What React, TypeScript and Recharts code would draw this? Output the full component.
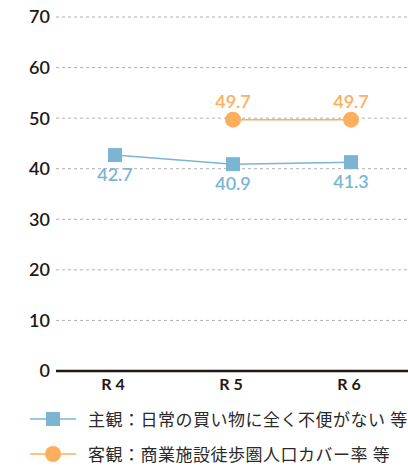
import { CartesianGrid, LabelList, Legend, Line, LineChart, XAxis, YAxis } from "recharts"

const categories = ["R4", "R5", "R6"]
const subjective = [42.7, 40.9, 41.3]
const objective = [null, 49.7, 49.7]
const yTicks = [0, 10, 20, 30, 40, 50, 60, 70]
const seriesNames = ["主観：日常の買い物に全く不便がない 等", "客観：商業施設徒歩圏人口カバー率 等"]

const blue = "#7cb5d3"
const orange = "#ffae5c"
const font = "Lato, 'Noto Sans CJK JP', sans-serif"

const data = categories.map((name, i) => ({
  name,
  subjective: subjective[i],
  objective: objective[i],
}))

const SquareDot = (props: any) => {
  const { cx, cy } = props
  if (cx == null || cy == null) return null
  return <rect x={cx - 7} y={cy - 7} width={14} height={14} fill={blue} />
}

const LegendBox = () => (
  <div style={{ fontFamily: font, fontSize: 17, color: "#2a2a2a", whiteSpace: "nowrap", letterSpacing: 0.5 }}>
    {seriesNames.map((label, i) => (
      <div key={label} style={{ height: 35, display: "flex", alignItems: "center" }}>
        <svg width={88} height={24} style={{ flexShrink: 0 }}>
          <line x1={30} x2={76} y1={12} y2={12} stroke={i === 0 ? blue : orange} strokeWidth={1.5} />
          {i === 0 ? (
            <rect x={46} y={5} width={14} height={14} fill={blue} />
          ) : (
            <circle cx={53} cy={12} r={8} fill={orange} />
          )}
        </svg>
        <span>{label}</span>
      </div>
    ))}
  </div>
)

export default function App() {
  return (
    <div style={{ position: "absolute", left: 0, top: 0, width: 408, height: 468, overflow: "hidden", background: "#fff" }}>
      <LineChart width={410} height={468} data={data} margin={{ top: 17, right: 0, bottom: 0, left: 0 }}>
        <CartesianGrid vertical={false} stroke="#b0b0b0" strokeDasharray="3 3" />
        <XAxis
          dataKey="name"
          height={30}
          padding={{ left: 59, right: 59 }}
          tickLine={false}
          axisLine={{ stroke: "#231815", strokeWidth: 2.5 }}
          tick={{ fill: "#231815", fontSize: 16, fontWeight: 700, fontFamily: font, letterSpacing: 4 }}
          tickMargin={2}
        />
        <YAxis
          width={56}
          domain={[0, 70]}
          ticks={yTicks}
          tickLine={false}
          axisLine={false}
          tickMargin={0}
          tick={{ fill: "#231815", fontSize: 18, fontWeight: 600, fontFamily: font }}
        />
        <Legend
          verticalAlign="bottom"
          height={67}
          wrapperStyle={{ left: 0, width: 440 }}
          content={() => <LegendBox />}
        />
        <Line
          dataKey="subjective"
          stroke={blue}
          strokeWidth={1.5}
          dot={<SquareDot />}
          isAnimationActive={false}
        >
          <LabelList dataKey="subjective" position="bottom" offset={13} fill={blue} fontSize={18} fontWeight={600} fontFamily={font} formatter={(v: any) => Number(v).toFixed(1)} />
        </Line>
        <Line
          dataKey="objective"
          stroke={orange}
          strokeWidth={1.5}
          dot={{ r: 8, fill: orange, stroke: "none" }}
          isAnimationActive={false}
        >
          <LabelList dataKey="objective" position="top" offset={12} fill={orange} fontSize={18} fontWeight={600} fontFamily={font} formatter={(v: any) => (v == null ? "" : Number(v).toFixed(1))} />
        </Line>
      </LineChart>
    </div>
  )
}
